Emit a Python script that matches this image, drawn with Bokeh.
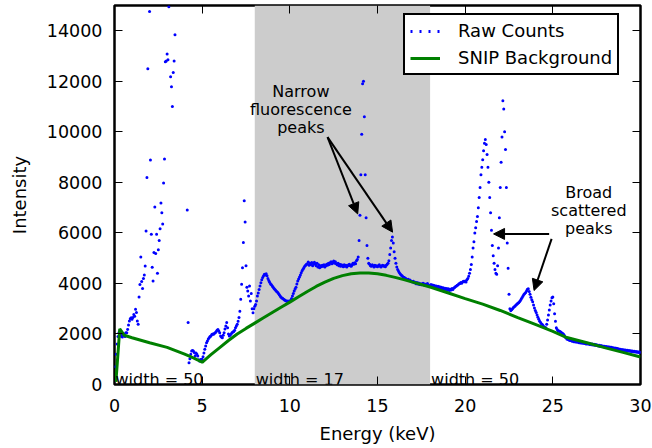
from bokeh.plotting import figure
from bokeh.models import (Range1d, FixedTicker, LinearAxis, BoxAnnotation, Arrow,
                          NormalHead, Legend, LegendItem, ColumnDataSource)
from bokeh.core.properties import value
from bokeh.embed import file_html
from bokeh.resources import INLINE

FONT = "DejaVu Sans"

# ---------------- data ----------------
energy_step = 0.05  # keV per channel

counts_00_05 = [
    150, 700, 1200, 1600, 1900, 2050, 2100, 1980, 1900, 1880, 1950, 2000, 1900, 2050, 2050, 2180, 2350, 2510, 2600, 2640,
    2580, 2650, 2770, 2700, 2980, 2850, 2510, 2380, 3465, 3960, 5050, 4080, 3800, 4200, 4330, 4690, 6080, 8190, 12500, 17000,
    14760, 8890, 5950, 4640, 4100, 5220, 7030, 5180, 5950, 4400, 5330, 5700, 6160, 7180, 6800, 6350, 7970, 8920, 12770, 12800,
    13080, 12850, 14950, 16500, 12180, 11780, 11000, 12350, 12800, 13840, 16000, 18500, 21000, 22000, 21000, 19000, 17500, 16500, 16000, 15800,
    16000, 15600, 15200, 6910, 2450, 860, 1020, 1195, 1330, 1350, 1330, 1270, 1140, 1250, 1200, 1130, 980, 930, 980, 1000,
]
counts_05_10 = [
    1000, 1100, 1250, 1400, 1520, 1650, 1720, 1800, 1850, 1900, 1920, 1980, 2000, 1990, 2030, 2050, 2100, 2150, 2180, 2120,
    2050, 1920, 1880, 1850, 1950, 2050, 2200, 2320, 2450, 2250, 2000, 1920, 1960, 2000, 2050, 2080, 2100, 2150, 2250, 2320,
    2380, 2500, 2650, 2900, 3370, 3970, 4620, 5620, 7270, 6430, 4700, 3850, 3700, 3500, 3900, 3300, 3600, 3000, 2840, 3000,
    3100, 3170, 3300, 3500, 3620, 3760, 3900, 4030, 4150, 4230, 4300, 4360, 4330, 4380, 4300, 4200, 4120, 4050, 3980, 3950,
    3900, 3850, 3800, 3760, 3720, 3680, 3650, 3600, 3550, 3500, 3450, 3420, 3400, 3370, 3340, 3320, 3300, 3290, 3300, 3280,
]
counts_10_15 = [
    3300, 3330, 3400, 3500, 3600, 3700, 3780, 3850, 3980, 4100, 4180, 4250, 4330, 4420, 4500, 4560, 4620, 4680, 4720, 4760,
    4780, 4850, 4720, 4800, 4750, 4830, 4700, 4780, 4840, 4760, 4700, 4800, 4650, 4740, 4620, 4700, 4660, 4720, 4680, 4740,
    4650, 4700, 4760, 4720, 4800, 4750, 4820, 4860, 4780, 4840, 4890, 4800, 4860, 4780, 4740, 4800, 4700, 4760, 4680, 4740,
    4700, 4660, 4740, 4680, 4720, 4650, 4700, 4740, 4760, 4700, 4680, 4740, 4800, 4760, 4820, 4780, 4900, 4950, 5050, 5700,
    6700, 8300, 9900, 11900, 12000, 10600, 8300, 6600, 5500, 5000, 4800, 4760, 4700, 4680, 4740, 4700, 4650, 4720, 4680, 4700,
]
counts_15_20 = [
    4660, 4700, 4740, 4680, 4650, 4700, 4720, 4680, 4700, 4660, 4720, 4760, 4800, 4900, 5150, 5400, 5700, 5840, 5600, 5250,
    5000, 4800, 4650, 4550, 4480, 4420, 4370, 4330, 4300, 4260, 4240, 4220, 4200, 4180, 4150, 4170, 4120, 4140, 4100, 4080,
    4060, 4090, 4030, 4050, 3990, 4040, 3980, 4020, 3960, 3990, 3950, 3990, 4010, 3940, 3980, 3930, 3970, 4000, 3940, 3920,
    3920, 3960, 3890, 3940, 3870, 3920, 3860, 3900, 3840, 3890, 3820, 3870, 3800, 3850, 3790, 3830, 3770, 3810, 3760, 3800,
    3740, 3790, 3720, 3770, 3740, 3800, 3760, 3820, 3840, 3880, 3900, 3930, 3950, 3990, 4000, 4040, 4010, 4060, 4090, 4070,
]
counts_20_25 = [
    4100, 4060, 4150, 4200, 4280, 4400, 4550, 4750, 5050, 5400, 5650, 6000, 6200, 6450, 6650, 7000, 7400, 7800, 8300, 8600,
    8900, 9250, 9550, 9700, 9500, 9100, 8600, 8000, 7400, 6800, 6100, 5500, 5100, 4800, 4550, 4400, 4360, 4700, 5400, 6600,
    7800, 8800, 9800, 11230, 10900, 10000, 9300, 7800, 5600, 4600, 3570, 3000, 2920, 2960, 3000, 3050, 3080, 3110, 3150, 3180,
    3220, 3240, 3280, 3320, 3380, 3440, 3500, 3560, 3600, 3640, 3700, 3770, 3790, 3680, 3570, 3450, 3350, 3280, 3150, 3030,
    2930, 2850, 2750, 2660, 2580, 2500, 2450, 2400, 2370, 2330, 2280, 2260, 2250, 2380, 2550, 2750, 2950, 3150, 3300, 3430,
]
counts_25_30 = [
    3460, 3200, 2800, 2500, 2250, 2180, 2130, 2120, 2100, 2080, 2050, 2020, 2000, 1950, 1880, 1850, 1800, 1790, 1770, 1750,
    1740, 1760, 1710, 1730, 1690, 1720, 1680, 1710, 1670, 1700, 1650, 1690, 1640, 1670, 1630, 1660, 1620, 1650, 1600, 1630,
    1600, 1620, 1580, 1610, 1570, 1600, 1560, 1590, 1550, 1580, 1540, 1560, 1520, 1550, 1510, 1540, 1500, 1520, 1490, 1510,
    1480, 1500, 1460, 1490, 1450, 1480, 1440, 1470, 1430, 1450, 1410, 1440, 1400, 1430, 1390, 1410, 1380, 1400, 1370, 1390,
    1360, 1380, 1350, 1370, 1340, 1360, 1330, 1350, 1320, 1340, 1310, 1330, 1300, 1320, 1290, 1310, 1280, 1300, 1270, 1290,
    1270,
]

bg_energy = [0.08, 0.3, 0.55, 1.0, 2.0, 3.0, 4.0, 4.5, 5.0, 5.5, 6.0, 6.5, 7.0, 7.5, 8.0, 8.5, 9.0, 9.5,
             10.0, 10.5, 11.0, 11.5, 12.0, 12.5, 13.0, 13.5, 14.0, 14.5, 15.0, 15.5, 16.0, 16.5, 17.0,
             17.5, 18.0, 19.0, 20.0, 21.0, 22.0, 23.0, 24.0, 25.0, 25.8, 27.0, 28.0, 29.0, 30.0]
bg_counts = [100, 2200, 1950, 1850, 1650, 1470, 1200, 1050, 880, 1180, 1460, 1740, 2000, 2220, 2430, 2640,
             2850, 3060, 3260, 3470, 3680, 3880, 4050, 4200, 4310, 4380, 4410, 4410, 4380, 4320, 4240,
             4150, 4050, 3960, 3860, 3630, 3400, 3180, 2930, 2650, 2380, 2100, 1860, 1640, 1450, 1270, 1090]

x_ticks = [0, 5, 10, 15, 20, 25, 30]
y_ticks = [0, 2000, 4000, 6000, 8000, 10000, 12000, 14000]

region_edges = [8, 18]
region_labels = ["width = 50", "width = 17", "width = 50"]
region_label_x = [0, 8, 18]

raw_counts = counts_00_05 + counts_05_10 + counts_10_15 + counts_15_20 + counts_20_25 + counts_25_30
raw_energy = [round(i * energy_step, 2) for i in range(len(raw_counts))]

# ---------------- figure ----------------
p = figure(width=652, height=448, output_backend="svg", toolbar_location=None,
           x_range=Range1d(0, 30), y_range=Range1d(0, 15000),
           min_border_left=114, min_border_right=12, min_border_top=5, min_border_bottom=64)
p.background_fill_color = "white"
p.border_fill_color = "white"
p.grid.visible = False
p.outline_line_color = "black"
p.outline_line_width = 2.5
p.outline_line_alpha = 1.0

def style_axis(ax, ticks, labels=True):
    ax.ticker = FixedTicker(ticks=ticks)
    ax.major_tick_in = 8
    ax.major_tick_out = 0
    ax.major_tick_line_color = "black"
    ax.major_tick_line_width = 1
    ax.minor_tick_line_color = None
    ax.axis_line_color = None
    if labels:
        ax.major_label_text_font = FONT
        ax.major_label_text_font_size = "17.5px"
        ax.major_label_text_color = "black"
        ax.axis_label_text_font = FONT
        ax.axis_label_text_font_size = "18px"
        ax.axis_label_text_font_style = "normal"
        ax.axis_label_text_color = "black"
    else:
        ax.major_label_text_font_size = "0px"
        ax.major_label_text_alpha = 0
        ax.major_label_standoff = 0

xa = p.xaxis[0]
ya = p.yaxis[0]
style_axis(xa, x_ticks)
style_axis(ya, y_ticks)
xa.axis_label = "Energy (keV)"
ya.axis_label = "Intensity"
xa.major_label_standoff = 14
ya.major_label_standoff = 12
xa.axis_label_standoff = 8
ya.axis_label_standoff = 14

top_ax = LinearAxis()
style_axis(top_ax, x_ticks, labels=False)
p.add_layout(top_ax, "above")
right_ax = LinearAxis()
style_axis(right_ax, y_ticks, labels=False)
p.add_layout(right_ax, "right")

# shaded region
band = BoxAnnotation(left=region_edges[0], right=region_edges[1], fill_color="#cccccc",
                     fill_alpha=1.0, line_color=None, level="underlay")
p.add_layout(band)

# data
raw_src = ColumnDataSource(data=dict(energy=raw_energy, counts=raw_counts))
p.scatter(x="energy", y="counts", source=raw_src, size=3, marker="circle",
          fill_color="#0000ff", line_color=None)
# legend-only proxy showing the dotted style of the raw counts
raw_proxy = p.line(x=[float("nan")], y=[float("nan")], line_color="#0000ff",
                   line_width=3, line_dash="2 7")

bg_src = ColumnDataSource(data=dict(energy=bg_energy, counts=bg_counts))
bg_line = p.line(x="energy", y="counts", source=bg_src, line_color="#008000", line_width=3)

# region width labels
p.text(x=region_label_x, y=[0, 0, 0], text=region_labels, text_font=value(FONT),
       text_font_size="16px", text_color="black", text_baseline="alphabetic",
       text_align="left", x_offset=1, y_offset=-5)

# annotations
p.text(x=[10.63], y=[10900], text=["Narrow\nfluorescence\npeaks"], text_font=value(FONT),
       text_font_size="16px", text_color="black", text_align="center",
       text_baseline="middle", text_line_height=0.95)
p.text(x=[27.05], y=[6880], text=["Broad\nscattered\npeaks"], text_font=value(FONT),
       text_font_size="16px", text_color="black", text_align="center",
       text_baseline="middle", text_line_height=0.95)

arrows = [
    (12.15, 9790, 13.87, 6750),
    (12.15, 9790, 15.86, 6030),
    (24.79, 5960, 21.62, 5960),
    (24.93, 5765, 23.93, 3720),
]
for xs, ys, xe, ye in arrows:
    p.add_layout(Arrow(end=NormalHead(size=11, fill_color="black", line_color="black", line_width=1),
                       x_start=xs, y_start=ys, x_end=xe, y_end=ye,
                       line_color="black", line_width=2))

legend = Legend(items=[LegendItem(label="Raw Counts", renderers=[raw_proxy]),
                       LegendItem(label="SNIP Background", renderers=[bg_line])],
                location=(289, 309))
legend.label_text_font = FONT
legend.label_text_font_size = "18px"
legend.label_text_color = "black"
legend.border_line_color = "black"
legend.border_line_width = 2.5
legend.border_line_alpha = 1.0
legend.background_fill_color = "white"
legend.background_fill_alpha = 1.0
legend.glyph_width = 30
legend.glyph_height = 20
legend.label_height = 20
legend.spacing = 6
legend.padding = 5
legend.margin = 0
legend.label_standoff = 18
p.add_layout(legend)

open("out.html", "w").write(file_html(p, INLINE))
